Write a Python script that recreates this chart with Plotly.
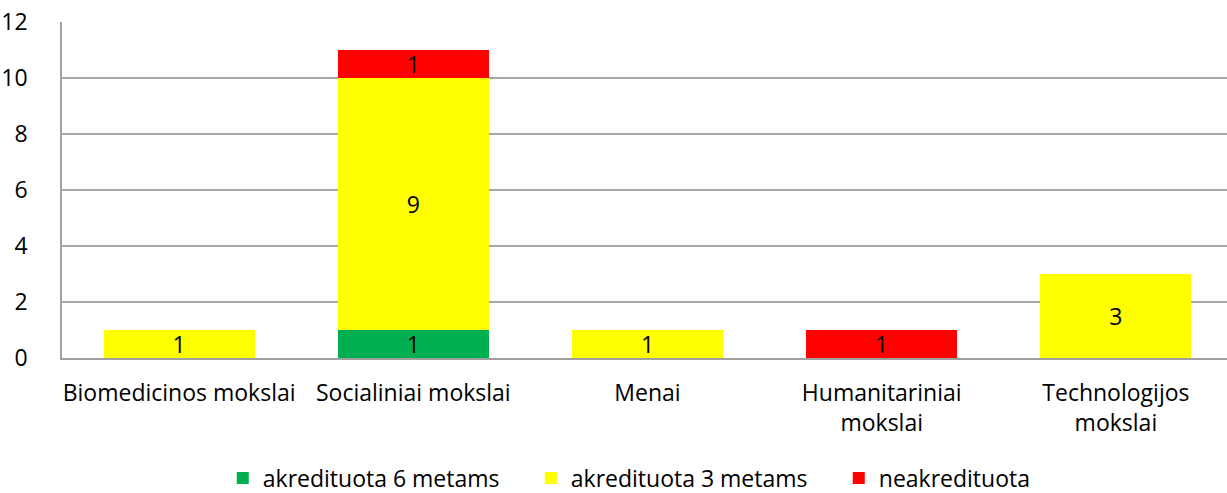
import plotly.graph_objects as go

categories = ["Biomedicinos mokslai", "Socialiniai mokslai", "Menai",
              "Humanitariniai<br>mokslai", "Technologijos<br>mokslai"]
series_names = ["akredituota 6 metams", "akredituota 3 metams", "neakredituota"]
green_vals = [0, 1, 0, 0, 0]
yellow_vals = [1, 9, 1, 0, 3]
red_vals = [0, 1, 0, 1, 0]
colors = ["#00B050", "#FFFF00", "#FF0000"]
y_ticks = [0, 2, 4, 6, 8, 10, 12]

FONT = "Open Sans, sans-serif"
FS = 23

fig = go.Figure()
for name, vals, col in zip(series_names, [green_vals, yellow_vals, red_vals], colors):
    fig.add_trace(go.Bar(
        x=categories,
        y=[v if v else None for v in vals],
        name=name,
        marker=dict(color=col, line=dict(width=0)),
        text=[str(v) if v else "" for v in vals],
        textposition="inside",
        insidetextanchor="middle",
        textangle=0,
        textfont=dict(size=FS, color="black", family=FONT),
        hoverinfo="skip",
    ))

fig.update_layout(
    barmode="stack",
    bargap=0.355,
    width=1227, height=493,
    margin=dict(l=62, r=0, t=22, b=135, autoexpand=False),
    plot_bgcolor="white", paper_bgcolor="white",
    font=dict(family=FONT, size=FS, color="black"),
    uniformtext=dict(minsize=FS, mode="show"),
    legend=dict(orientation="h", x=0.138, xanchor="left", y=15 / 493, yref="container",
                yanchor="middle", font=dict(size=FS), itemwidth=30,
                entrywidth=263, entrywidthmode="pixels", traceorder="normal"),
    showlegend=True,
)
# the reference's plot area runs slightly past the right edge of the image
fig.update_xaxes(range=[-0.5, 4.4744], showline=True, linecolor="#a0a0a0", linewidth=1.5,
                 ticks="", tickfont=dict(size=FS), automargin=False, ticklabelstandoff=14)
fig.update_yaxes(range=[0, 12], tickvals=y_ticks, showgrid=True, gridcolor="#a6a6a6",
                 gridwidth=1.5, showline=True, linecolor="#a0a0a0", linewidth=1.5,
                 zeroline=False, ticks="", ticklabelstandoff=28, automargin=False,
                 tickfont=dict(size=FS))

fig.write_html("out.html", config={"displayModeBar": False},
               post_script="document.body.style.margin='0';")
